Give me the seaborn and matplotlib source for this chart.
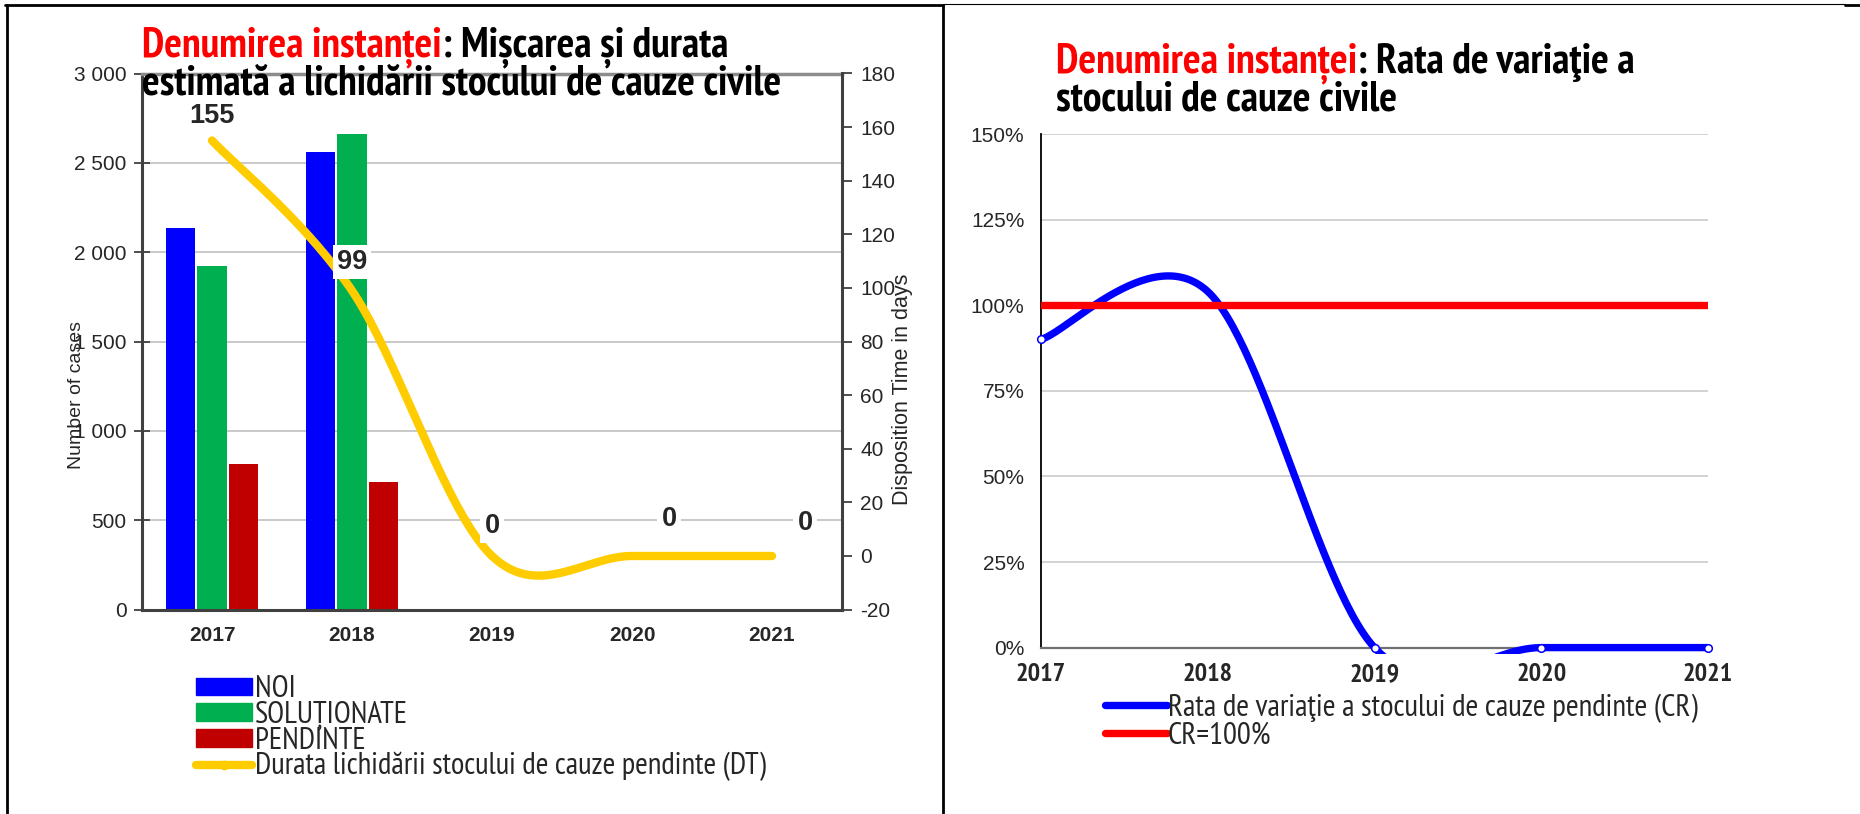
import numpy as np
import pandas as pd
import matplotlib
matplotlib.use("Agg")
import matplotlib.pyplot as plt
import seaborn as sns
from matplotlib import font_manager as fm
from matplotlib.patches import Patch, Rectangle
from matplotlib.lines import Line2D

# ---------------- data ----------------
years = ["2017", "2018", "2019", "2020", "2021"]
year_nums = [2017, 2018, 2019, 2020, 2021]
noi = [2137, 2558, 0, 0, 0]
solutionate = [1924, 2659, 0, 0, 0]
pendinte = [816, 715, 0, 0, 0]
dt_days = [155, 99, 0, 0, 0]
cr_rate = [0.90, 1.04, 0.0, 0.0, 0.0]
cr_target = [1.0, 1.0, 1.0, 1.0, 1.0]

series_names = ["NOI", "SOLUȚIONATE", "PENDINTE"]
series_colors = ["#0000FF", "#00B050", "#C00000"]
dt_name = "Durata lichidării stocului de cauze pendinte (DT)"
cr_name = "Rata de variaţie a stocului de cauze pendinte (CR)"
target_name = "CR=100%"

left_ticks = [0, 500, 1000, 1500, 2000, 2500, 3000]
left_tick_labels = ["0", "500", "1 000", "1 500", "2 000", "2 500", "3 000"]
right_ticks = [-20, 0, 20, 40, 60, 80, 100, 120, 140, 160, 180]
pct_ticks = [0, 0.25, 0.5, 0.75, 1.0, 1.25, 1.5]
pct_labels = ["0%", "25%", "50%", "75%", "100%", "125%", "150%"]

title_red = "Denumirea instanței"
left_title_1 = ": Mișcarea și durata"
left_title_2 = "estimată a lichidării stocului de cauze civile"
right_title_1 = ": Rata de variaţie a"
right_title_2 = "stocului de cauze civile"

# ---------------- fonts ----------------
sns.set_style("white")
names = {f.name for f in fm.fontManager.ttflist}
REG = "Liberation Sans" if "Liberation Sans" in names else "DejaVu Sans"
plt.rcParams["font.family"] = [REG, "DejaVu Sans"]


def wnum(f):
    w = f.weight
    if isinstance(w, (int, float)):
        return w
    return fm.weight_dict.get(str(w).lower(), 400)


cands = []
for f in fm.fontManager.ttflist:
    key = (f.name + " " + f.fname).lower()
    st = str(f.stretch).lower()
    if f.style != "normal":
        continue
    if "narrow" in key or "condensed" in key or "condensed" in st:
        cands.append(f)
fams = {}
for f in cands:
    fams.setdefault(f.name, []).append(f)
REG_FILE, BOLD_FILE = None, None
best = -1
for name, lst in fams.items():
    has_b = any(wnum(f) >= 600 for f in lst)
    has_r = any(350 <= wnum(f) < 600 for f in lst)
    s = 2 * has_b + has_r + 0.5 * ("narrow" in name.lower()) + 0.3 * ("liberation" in name.lower())
    if s > best:
        best = s
        rl = [f for f in lst if 350 <= wnum(f) < 600]
        bl = [f for f in lst if wnum(f) >= 600]
        REG_FILE = min(rl, key=lambda f: abs(wnum(f) - 400)).fname if rl else None
        BOLD_FILE = min(bl, key=lambda f: abs(wnum(f) - 700)).fname if bl else None


def nprop(size, weight="normal"):
    if weight == "bold":
        if BOLD_FILE:
            return fm.FontProperties(fname=BOLD_FILE, size=size)
        return fm.FontProperties(family=[REG, "DejaVu Sans"], weight="bold", size=size)
    if REG_FILE:
        return fm.FontProperties(fname=REG_FILE, size=size)
    return fm.FontProperties(family=[REG, "DejaVu Sans"], size=size)


W, H = 1860, 814
fig = plt.figure(figsize=(W / 100, H / 100), dpi=100)
fig.patch.set_facecolor("white")
renderer = fig.canvas.get_renderer()


def measure(text, prop):
    t = fig.text(0, 0, text, fontproperties=prop)
    bb = t.get_window_extent(renderer)
    t.remove()
    return bb.width, bb.height


def fit_size(text, target_px, weight="normal", base=20.0):
    w, _ = measure(text, nprop(base, weight))
    return base * target_px / w


def smooth(xs, ys, n=60):
    """Excel-like smoothed line (Bezier through the points)."""
    pts = np.column_stack([np.asarray(xs, float), np.asarray(ys, float)])
    P = np.vstack([pts[0], pts, pts[-1]])
    out = []
    t = np.linspace(0, 1, n)[:, None]
    for i in range(len(pts) - 1):
        p0, p1, p2, p3 = P[i], P[i + 1], P[i + 2], P[i + 3]
        c1 = p1 + (p2 - p0) / 6
        c2 = p2 - (p3 - p1) / 6
        seg = (1 - t) ** 3 * p1 + 3 * (1 - t) ** 2 * t * c1 + 3 * (1 - t) * t ** 2 * c2 + t ** 3 * p2
        out.append(seg if i == 0 else seg[1:])
    a = np.vstack(out)
    return a[:, 0], a[:, 1]


def px_axes(l, t, r, b):
    return fig.add_axes([l / W, 1 - b / H, (r - l) / W, (b - t) / H])


def legend_spacing(labels, prop, pitch_px):
    h = max(measure(l, prop)[1] for l in labels)
    fs_px = prop.get_size_in_points() * 100 / 72
    return (pitch_px - h) / fs_px


# ================= LEFT CHART =================
ax = px_axes(142, 73.5, 842, 609.6)
df = pd.DataFrame({
    "year": years * 3,
    "value": noi + solutionate + pendinte,
    "series": [series_names[0]] * 5 + [series_names[1]] * 5 + [series_names[2]] * 5,
})
sns.barplot(data=df, x="year", y="value", hue="series", order=years,
            hue_order=series_names, palette=series_colors, saturation=1,
            width=0.68, gap=0.08, linewidth=0, ax=ax, legend=False, zorder=2)
ax.set_xlim(-0.5, 4.5)
ax.set_ylim(0, 3000)
ax.set_yticks(left_ticks)
ax.set_yticklabels(left_tick_labels, fontsize=15)
ax.grid(axis="y", color="#C0C0C0", lw=1.2)
ax.set_axisbelow(True)
ax.set_xlabel("")
ax.set_ylabel("Number of cases", fontsize=14)
ax.yaxis.set_label_coords(-0.082, 0.40)
ax.set_xticks(range(5))
ax.set_xticklabels(years, fontsize=15, fontweight="bold")
ax.tick_params(axis="x", length=0, pad=12)
ax.set_xticks([0.5, 1.5, 2.5, 3.5], minor=True)
ax.tick_params(axis="x", which="minor", direction="inout", length=11, width=1.3, color="#404040")
ax.tick_params(axis="y", direction="inout", length=12, width=1.3, color="#404040", pad=5)
for s in ["left", "bottom"]:
    ax.spines[s].set_color("#404040")
    ax.spines[s].set_linewidth(2.2)
ax.spines["top"].set_color("#8C8C8C")
ax.spines["top"].set_linewidth(2.5)
ax.spines["right"].set_visible(False)

ax2 = ax.twinx()
ax2.set_ylim(-20, 180)
ax2.set_yticks(right_ticks)
ax2.set_yticklabels([str(v) for v in right_ticks], fontsize=15)
ax2.tick_params(axis="y", direction="out", length=7, width=1.3, color="#404040", pad=6)
for s in ["left", "top", "bottom"]:
    ax2.spines[s].set_visible(False)
ax2.spines["right"].set_color("#404040")
ax2.spines["right"].set_linewidth(2.2)
ax2.set_ylabel("Disposition Time in days", fontsize=15.5)
ax2.yaxis.set_label_coords(1.071, 0.41)

sx, sy = smooth(range(5), dt_days)
sns.lineplot(x=sx, y=sy, ax=ax2, color="#FFCC00", lw=6, sort=False,
             estimator=None, solid_capstyle="round", zorder=3)
offsets = [(0, 25), (0, 29), (0, 30), (37, 37), (33, 33)]
for i, v in enumerate(dt_days):
    ax2.annotate(str(v), xy=(i, v), xytext=offsets[i], textcoords="offset pixels",
                 ha="center", va="center", fontsize=19.5, fontweight="bold", zorder=5,
                 bbox=dict(boxstyle="square,pad=0.15", fc="white", ec="none"))

leg_size = fit_size(dt_name, 510)
lprop = nprop(leg_size)
labels1 = series_names + [dt_name]
leg_handles = [Patch(color=c) for c in series_colors] + [
    Line2D([], [], color="#FFCC00", lw=6, marker="o", ms=6, solid_capstyle="round")]
fs1 = leg_size * 100 / 72
fig.legend(leg_handles, labels1, loc="upper left",
           bbox_to_anchor=(181 / W, 1 - 660 / H), frameon=False,
           prop=lprop, labelspacing=legend_spacing(labels1, lprop, 26.5),
           handlelength=56 / fs1, handleheight=16 / fs1,
           handletextpad=0.08, borderpad=0)

# ================= RIGHT CHART =================
ax3 = px_axes(1041, 134, 1708, 647.6)
ax3.set_xlim(2017, 2021)
ax3.set_ylim(0, 1.5)
ax3.set_yticks(pct_ticks)
ax3.set_yticklabels(pct_labels, fontsize=15)
ax3.set_xticks(year_nums)
xt_size = fit_size("2017", 50, weight="bold")
ax3.set_xticklabels(years)
for lab in ax3.get_xticklabels():
    lab.set_fontproperties(nprop(xt_size, "bold"))
ax3.grid(axis="y", color="#CFCFCF", lw=1.3)
ax3.set_axisbelow(True)
ax3.tick_params(axis="x", direction="in", length=7, width=1, color="#404040", pad=11)
ax3.tick_params(axis="y", direction="out", length=7, width=1, color="black", pad=5)
ax3.spines["top"].set_visible(False)
ax3.spines["right"].set_visible(False)
ax3.spines["left"].set_color("black")
ax3.spines["left"].set_linewidth(1.3)
ax3.spines["bottom"].set_color("#707070")
ax3.spines["bottom"].set_linewidth(1.6)

cx, cy = smooth(year_nums, cr_rate)
sns.lineplot(x=cx, y=cy, ax=ax3, color="#0000FF", lw=5.3, sort=False,
             estimator=None, zorder=3)
clip = Rectangle((0, -0.013), 1, 1.05, transform=ax3.transAxes, visible=False)
ax3.add_patch(clip)
for ln in ax3.lines:
    ln.set_clip_path(clip)
vis = [0, 2, 3, 4]  # markers visible in the reference
sns.scatterplot(x=[year_nums[i] for i in vis], y=[cr_rate[i] for i in vis], ax=ax3,
                marker="o", s=30, facecolor="white", edgecolor="#0000FF",
                linewidth=1.1, zorder=6, clip_on=False)
sns.lineplot(x=year_nums, y=cr_target, ax=ax3, color="#FF0000", lw=5.3,
             estimator=None, zorder=4)

leg2_size = fit_size(cr_name, 529)
lprop2 = nprop(leg2_size)
labels2 = [cr_name, target_name]
fs2 = leg2_size * 100 / 72
leg2 = [Line2D([], [], color="#0000FF", lw=5.3, marker="o", ms=4, mfc="#0000FF"),
        Line2D([], [], color="#FF0000", lw=5.3)]
fig.legend(leg2, labels2, loc="upper left",
           bbox_to_anchor=(1089 / W, 1 - 678 / H), frameon=False,
           prop=lprop2, labelspacing=legend_spacing(labels2, lprop2, 28.5),
           handlelength=62 / fs2, handletextpad=0.05, borderpad=0)

# ================= TITLES =================
def rich_line(x_px, y_px, parts, size):
    x = x_px
    for text, color in parts:
        t = fig.text(x / W, 1 - y_px / H, text, color=color,
                     fontproperties=nprop(size, "bold"), ha="left", va="center")
        x += t.get_window_extent(renderer).width


lt_size = fit_size(left_title_2, 640, weight="bold")
rt_size = fit_size(title_red + right_title_1, 579, weight="bold")
rich_line(142, 47, [(title_red, "#FF0000"), (left_title_1, "black")], lt_size)
rich_line(142, 84, [(left_title_2, "black")], lt_size)
rich_line(1056, 63, [(title_red, "#FF0000"), (right_title_1, "black")], rt_size)
rich_line(1056, 100, [(right_title_2, "black")], rt_size)

# ================= FRAME LINES =================
def fline(x0, y0, x1, y1, lw):
    fig.add_artist(Line2D([x0 / W, x1 / W], [1 - y0 / H, 1 - y1 / H],
                          transform=fig.transFigure, color="black", lw=lw))


fline(7, 5, 7, 814, 2.0)
fline(5, 5, 943, 5, 2.0)
fline(943, 5, 943, 814, 2.0)
fline(943, 4, 1845, 4, 0.8)
fline(1845, 5, 1860, 5, 2.0)

fig.savefig("out.png", dpi=100, facecolor="white")
